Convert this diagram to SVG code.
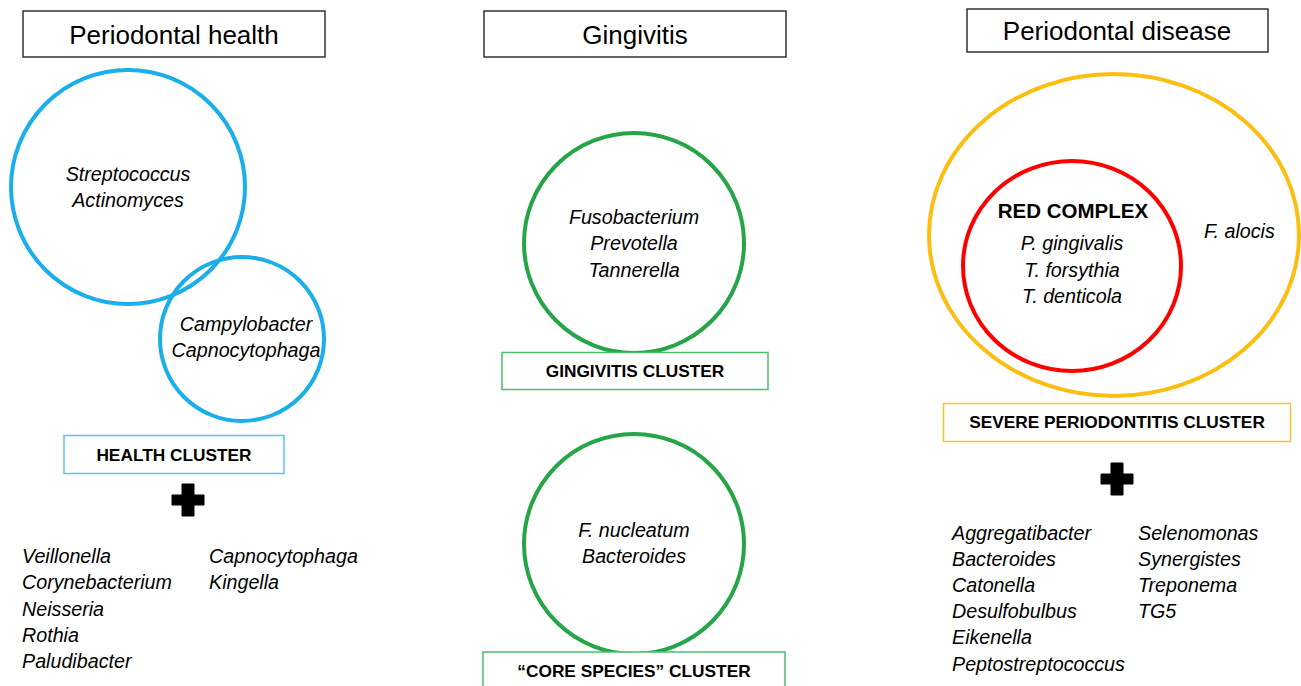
<svg xmlns="http://www.w3.org/2000/svg" width="1301" height="686" viewBox="0 0 1301 686">
<style>
.t{font-family:"Liberation Sans",Arial,sans-serif;fill:#000}
.title{font-size:26px;text-anchor:middle}
.it{font-size:19.7px;font-style:italic}
.c{text-anchor:middle}
.b{font-size:17.3px;font-weight:bold;text-anchor:middle}
.hb{fill:#fff;stroke:#333;stroke-width:1.5}
.blue{fill:none;stroke:#1AAEEA;stroke-width:4}
.green{fill:none;stroke:#25A548;stroke-width:4}
.yellow{fill:none;stroke:#FDBE12;stroke-width:4}
.red{fill:none;stroke:#F00;stroke-width:4}
</style>
<defs>
<path id="plus" d="M-6,-16 H6 V-5 H16 V5 H6 V16 H-6 V5 H-16 V-5 H-6 Z" fill="#000" stroke="#000" stroke-width="1" stroke-linejoin="round"/>
</defs>
<rect width="1301" height="686" fill="#fff"/>

<g id="health">
<rect class="hb" x="23" y="11" width="302" height="46"/>
<text class="t title" x="174" y="44">Periodontal health</text>
<circle class="blue" cx="128" cy="187" r="117"/>
<text class="t it c" x="128" y="181">Streptococcus</text>
<text class="t it c" x="128" y="207">Actinomyces</text>
<circle class="blue" cx="242" cy="339" r="82"/>
<text class="t it c" x="246" y="331">Campylobacter</text>
<text class="t it c" x="246" y="357">Capnocytophaga</text>
<rect x="64" y="435.5" width="220" height="38" fill="#fff" stroke="#5BC3EF" stroke-width="1.5"/>
<text class="t b" x="174" y="461">HEALTH CLUSTER</text>
<use href="#plus" x="188" y="500"/>
<text class="t it" x="22" y="563">Veillonella</text>
<text class="t it" x="22" y="589">Corynebacterium</text>
<text class="t it" x="22" y="616">Neisseria</text>
<text class="t it" x="22" y="642">Rothia</text>
<text class="t it" x="22" y="668">Paludibacter</text>
<text class="t it" x="209" y="563">Capnocytophaga</text>
<text class="t it" x="209" y="589">Kingella</text>
</g>

<g id="gingivitis">
<rect class="hb" x="484" y="11" width="302" height="46"/>
<text class="t title" x="635" y="44">Gingivitis</text>
<circle class="green" cx="634" cy="243" r="110"/>
<text class="t it c" x="634" y="224">Fusobacterium</text>
<text class="t it c" x="634" y="250">Prevotella</text>
<text class="t it c" x="634" y="277">Tannerella</text>
<rect x="502" y="352.5" width="266" height="37" fill="#fff" stroke="#4CBE6A" stroke-width="1.5"/>
<text class="t b" x="635" y="377">GINGIVITIS CLUSTER</text>
<circle class="green" cx="634" cy="544" r="110"/>
<text class="t it c" x="634" y="537">F. nucleatum</text>
<text class="t it c" x="634" y="563">Bacteroides</text>
<rect x="483" y="652" width="302" height="40" fill="#fff" stroke="#4CBE6A" stroke-width="1.5"/>
<text class="t b" x="634" y="677">“CORE SPECIES” CLUSTER</text>
</g>

<g id="disease">
<rect class="hb" x="967" y="9" width="301" height="43"/>
<text class="t title" x="1117" y="40">Periodontal disease</text>
<ellipse class="yellow" cx="1114" cy="235" rx="185" ry="161"/>
<ellipse class="red" cx="1072" cy="266" rx="109" ry="105"/>
<text class="t c" x="1073" y="218" style="font-size:20.5px;font-weight:bold">RED COMPLEX</text>
<text class="t it c" x="1072" y="250">P. gingivalis</text>
<text class="t it c" x="1072" y="277">T. forsythia</text>
<text class="t it c" x="1072" y="303">T. denticola</text>
<text class="t it" x="1204" y="238">F. alocis</text>
<rect x="943.5" y="403.5" width="347" height="38" fill="#fff" stroke="#FDC42A" stroke-width="1.5"/>
<text class="t b" x="1117" y="428">SEVERE PERIODONTITIS CLUSTER</text>
<use href="#plus" x="1117" y="479"/>
<text class="t it" x="952" y="540">Aggregatibacter</text>
<text class="t it" x="952" y="566">Bacteroides</text>
<text class="t it" x="952" y="592">Catonella</text>
<text class="t it" x="952" y="618">Desulfobulbus</text>
<text class="t it" x="952" y="644">Eikenella</text>
<text class="t it" x="952" y="671">Peptostreptococcus</text>
<text class="t it" x="1138" y="540">Selenomonas</text>
<text class="t it" x="1138" y="566">Synergistes</text>
<text class="t it" x="1138" y="592">Treponema</text>
<text class="t it" x="1138" y="618">TG5</text>
</g>

<g id="connectors"></g>
</svg>
